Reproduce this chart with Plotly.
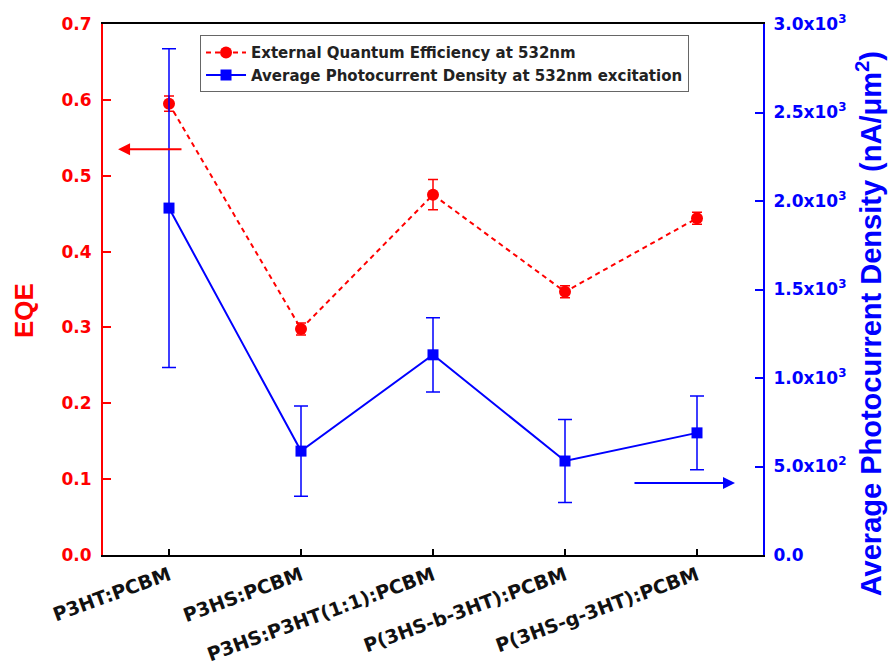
import plotly.graph_objects as go

categories = ["P3HT:PCBM", "P3HS:PCBM", "P3HS:P3HT(1:1):PCBM", "P(3HS-b-3HT):PCBM", "P(3HS-g-3HT):PCBM"]
eqe = [0.595, 0.298, 0.475, 0.347, 0.444]
eqe_err = [0.010, 0.008, 0.020, 0.008, 0.008]
photocurrent = [1960, 587, 1131, 531, 690]
photocurrent_err = [900, 255, 210, 235, 208]
y2_tickvals = [0, 500, 1000, 1500, 2000, 2500, 3000]
y2_ticktext = ["0.0", "5.0x10<sup>2</sup>", "1.0x10<sup>3</sup>", "1.5x10<sup>3</sup>",
               "2.0x10<sup>3</sup>", "2.5x10<sup>3</sup>", "3.0x10<sup>3</sup>"]

xpos = list(range(len(categories)))
RED = "#ff0000"
BLUE = "#0000ff"
FONT = "Liberation Sans, Arial, sans-serif"
WFONT = "DejaVu Sans, Verdana, sans-serif"

fig = go.Figure()
fig.add_trace(go.Scatter(
    x=xpos, y=eqe, name="External Quantum Efficiency at 532nm",
    mode="lines+markers",
    line=dict(color=RED, width=2, dash="5px,4px"),
    marker=dict(symbol="circle", size=12, color=RED),
    error_y=dict(type="data", array=eqe_err, color=RED, thickness=1.5, width=5),
    yaxis="y"))
fig.add_trace(go.Scatter(
    x=xpos, y=photocurrent, name="Average Photocurrent Density at 532nm excitation",
    mode="lines+markers",
    line=dict(color=BLUE, width=2),
    marker=dict(symbol="square", size=11, color=BLUE),
    error_y=dict(type="data", array=photocurrent_err, color=BLUE, thickness=1.5, width=7),
    yaxis="y2"))

fig.update_layout(
    width=893, height=668,
    margin=dict(l=103, r=130, t=24, b=113),
    paper_bgcolor="white", plot_bgcolor="white",
    font=dict(family=FONT, size=16, color="black"),
    showlegend=True,
    legend=dict(x=0.147, y=0.979, xanchor="left", yanchor="top",
                bgcolor="white", bordercolor="#666666", borderwidth=1,
                font=dict(family=WFONT, size=15, color="#222222", weight="bold"),
                tracegroupgap=0, itemwidth=40),
    xaxis=dict(range=[-0.5, 4.5], tickvals=xpos, ticktext=categories,
               tickangle=-20, showgrid=False, zeroline=False, automargin=False,
               showline=True, linecolor="black", linewidth=2, mirror=True,
               ticks="inside", ticklen=6, tickwidth=2, tickcolor="black",
               tickfont=dict(family=WFONT, size=19, color="#111111", weight="bold")),
    yaxis=dict(range=[0, 0.7], tickvals=[0, 0.1, 0.2, 0.3, 0.4, 0.5, 0.6, 0.7],
               tickformat=".1f", showgrid=False, zeroline=False, automargin=False,
               showline=True, linecolor=RED, linewidth=2,
               ticks="inside", ticklen=8, tickwidth=2, tickcolor=RED,
               ticklabelstandoff=6,
               tickfont=dict(family=WFONT, size=17, color=RED, weight="bold")),
    yaxis2=dict(range=[0, 3000], overlaying="y", side="right",
                tickvals=y2_tickvals, ticktext=y2_ticktext, automargin=False,
                showgrid=False, zeroline=False,
                showline=True, linecolor=BLUE, linewidth=2,
                ticks="inside", ticklen=8, tickwidth=2, tickcolor=BLUE,
                ticklabelstandoff=5,
                tickfont=dict(family=WFONT, size=17, color=BLUE, weight="bold")),
)

# axis titles
fig.add_annotation(text="EQE", xref="paper", yref="paper", x=-0.12, y=0.461,
                   xanchor="center", yanchor="middle", textangle=-90, showarrow=False,
                   font=dict(family=FONT, size=26, color=RED, weight="bold"))
fig.add_annotation(text="Average Photocurrent Density (nA/\u03bcm<sup>2</sup>)",
                   xref="paper", yref="paper", x=1.161, y=0.435,
                   xanchor="center", yanchor="middle", textangle=-90, showarrow=False,
                   font=dict(family=FONT, size=29, color=BLUE, weight="bold"))

# direction arrows
fig.add_annotation(x=-0.386, y=0.535, ax=0.106, ay=0.535, xref="x", yref="y",
                   axref="x", ayref="y", text="", showarrow=True,
                   arrowhead=2, arrowsize=1.2, arrowwidth=2, arrowcolor=RED)
fig.add_annotation(x=4.288, y=0.095, ax=3.515, ay=0.095, xref="x", yref="y",
                   axref="x", ayref="y", text="", showarrow=True,
                   arrowhead=2, arrowsize=1.2, arrowwidth=2, arrowcolor=BLUE)

fig.write_html("out.html")
